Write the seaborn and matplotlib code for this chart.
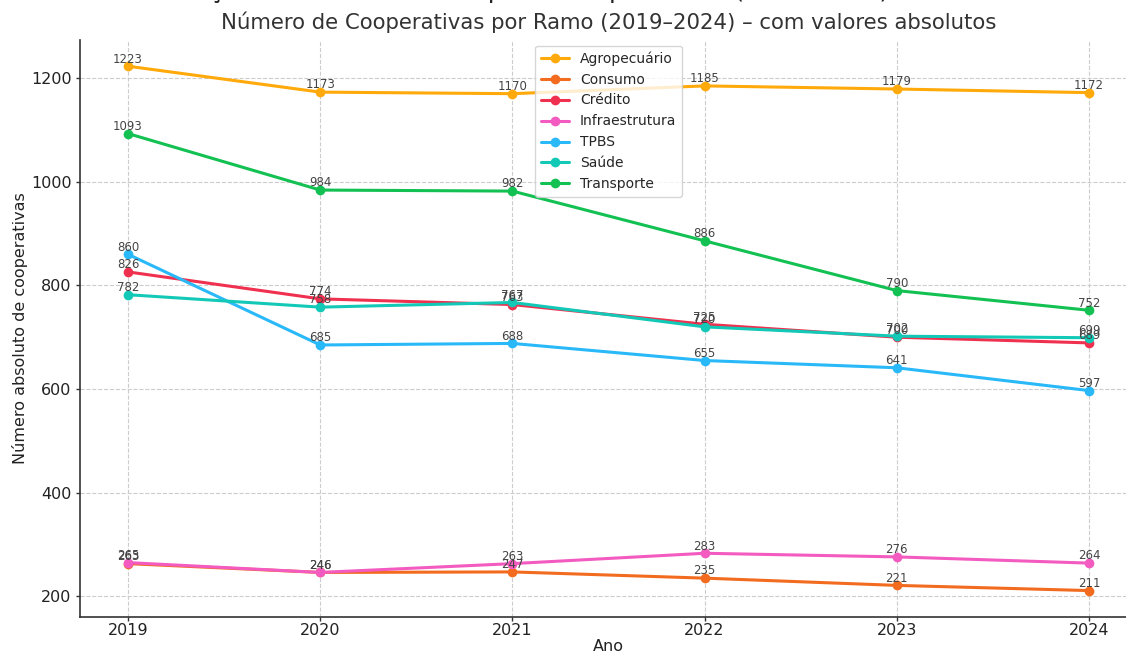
import matplotlib
matplotlib.use("Agg")
import matplotlib.pyplot as plt
import seaborn as sns
import pandas as pd

anos = [2019, 2020, 2021, 2022, 2023, 2024]
ramos = ["Agropecuário", "Consumo", "Crédito", "Infraestrutura", "TPBS", "Saúde", "Transporte"]
agropecuario = [1223, 1173, 1170, 1185, 1179, 1172]
consumo = [263, 246, 247, 235, 221, 211]
credito = [826, 774, 763, 725, 700, 689]
infraestrutura = [265, 246, 263, 283, 276, 264]
tpbs = [860, 685, 688, 655, 641, 597]
saude = [782, 758, 767, 720, 702, 699]
transporte = [1093, 984, 982, 886, 790, 752]

cores = ["#FFA90A", "#F26B1F", "#F0304F", "#F35BC0", "#29B9F8", "#12C8B6", "#12C152"]

series = [agropecuario, consumo, credito, infraestrutura, tpbs, saude, transporte]
rows = []
for ramo, vals in zip(ramos, series):
    for a, v in zip(anos, vals):
        rows.append({"Ano": a, "Ramo": ramo, "Valor": v})
df = pd.DataFrame(rows)

sns.set_theme(style="whitegrid")
plt.rcParams["font.family"] = ["DejaVu Sans"]

fig = plt.figure(figsize=(11.26, 6.55), dpi=100)
ax = fig.add_axes([80 / 1126, 1 - 617 / 655, (1137 - 80) / 1126, (617 - 40) / 655])

sns.lineplot(data=df, x="Ano", y="Valor", hue="Ramo", hue_order=ramos,
             palette=dict(zip(ramos, cores)), marker="o", markersize=7,
             markeredgewidth=0, linewidth=2.2, ax=ax)

for ramo, vals in zip(ramos, series):
    for a, v in zip(anos, vals):
        ax.annotate(str(v), (a, v), xytext=(0, 0.5), textcoords="offset points",
                    ha="center", va="bottom", fontsize=8.5, color="#444444")

ax.set_facecolor("white")
ax.grid(True, linestyle="--", color="#cccccc", linewidth=0.8)
for s in ["top", "right"]:
    ax.spines[s].set_visible(False)
for s in ["left", "bottom"]:
    ax.spines[s].set_visible(True)
    ax.spines[s].set_color("#333333")
    ax.spines[s].set_linewidth(1.2)
ax.tick_params(axis="both", which="both", length=3, width=1, color="#333333",
               labelsize=11.5, labelcolor="#222222", bottom=True, left=True)
ax.tick_params(axis="x", pad=1)
ax.tick_params(axis="y", pad=3)
ax.set_xticks(anos)
ax.set_xlim(2018.75, 2024.25)
ax.set_ylim(160, 1273.6)
ax.set_yticks([200, 400, 600, 800, 1000, 1200])
ax.set_xlabel("Ano", fontsize=11.5, color="#222222", labelpad=1)
ax.set_ylabel("Número absoluto de cooperativas", fontsize=11.5, color="#222222", labelpad=2)
ax.set_title("Número de Cooperativas por Ramo (2019–2024) – com valores absolutos",
             fontsize=15.3, color="#333333", pad=8)

fig.text(889 / 1126, 1 + 2 / 655, "Evolução do Número de Cooperativas por Ramo (2019–2024)",
         ha="right", va="baseline", fontsize=17.5, color="#222222")

leg = ax.legend(loc="upper center", fontsize=10, frameon=True, borderaxespad=0.4)
leg.get_frame().set_edgecolor("#cccccc")
leg.set_title(None)

fig.savefig("out.png", dpi=100)
